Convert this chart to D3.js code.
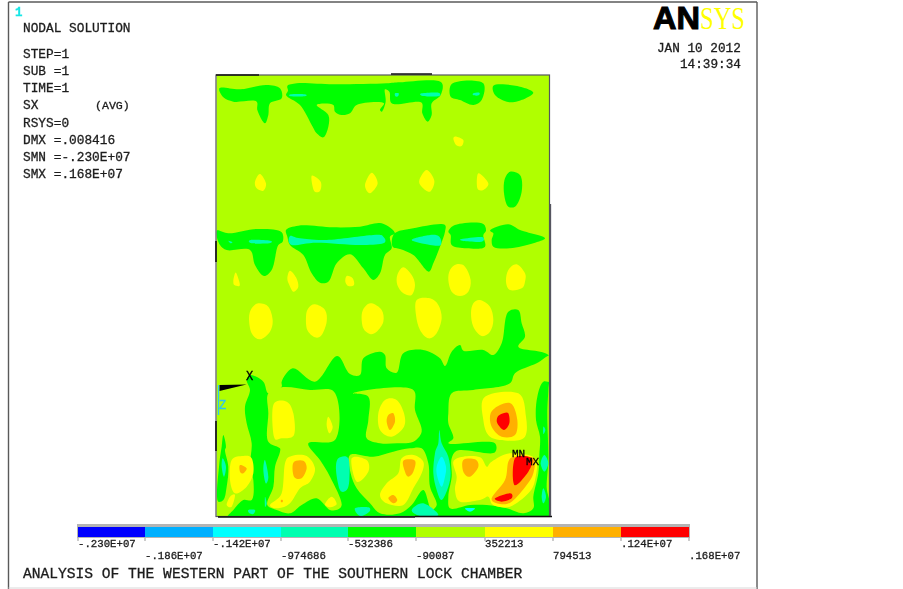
<!DOCTYPE html>
<html>
<head>
<meta charset="utf-8">
<style>
html,body{margin:0;padding:0;background:#fff;overflow:hidden}
text{font-family:"Liberation Mono","DejaVu Sans Mono",monospace;fill:#1c1c1c;white-space:pre}
</style>
<script src="https://cdn.jsdelivr.net/npm/d3@7"></script>
</head>
<body>
<svg id="chart" width="903" height="589"></svg>
<script>
// ---- legend ----
const bandColors = ["#0000ff","#00b0ff","#00ffff","#00ffb0","#00ff00","#b0ff00","#ffff00","#ffb000","#ff0000"];
const tickLabels = ["-.230E+07","-.186E+07","-.142E+07","-974686","-532386","-90087","352213","794513",".124E+07",".168E+07"];
const tickValues = [-2300000,-1860000,-1420000,-974686,-532386,-90087,352213,794513,1240000,1680000];
const infoLines = ["STEP=1","SUB =1","TIME=1","SX","RSYS=0","DMX =.008416","SMN =-.230E+07","SMX =.168E+07"];
const titleText = "ANALYSIS OF THE WESTERN PART OF THE SOUTHERN LOCK CHAMBER";

// ---- contour regions, model coordinates ----
// [band, [x,y,x,y,...]] ; upper model frame
const upperRegions = [
 [4,[58,85,120,88,200,75,240,85,245,115,210,130,205,165,195,190,172,150,170,125,100,125,70,112]],
 [4,[262,78,290,70,400,73,560,70,600,67,725,68,722,105,695,130,695,165,683,185,667,160,665,128,575,130,568,95,555,88,557,125,545,155,540,150,552,130,470,135,450,160,425,165,405,155,400,135,350,135,385,165,385,200,370,232,350,220,338,200,300,135,258,105,264,92]],
 [4,[755,72,850,70,845,120,820,135,780,120,752,110]],
 [4,[880,77,960,80,1000,98,935,127,885,105]],
 [4,[930,335,960,345,965,395,945,440,925,440,912,400,915,355]],
 [4,[50,512,85,520,170,507,245,517,248,545,235,555,215,630,192,648,165,615,150,570,80,570,60,555]],
 [4,[258,510,295,497,400,502,480,500,545,490,585,520,570,530,575,565,555,585,540,640,520,660,490,625,450,583,410,610,385,665,360,668,335,640,310,585,270,555,262,530]],
 [4,[582,522,640,505,735,495,735,515,720,560,700,610,687,635,640,585,600,567,578,560]],
 [4,[745,515,760,497,850,492,858,512,850,525,855,560,800,565,755,555,752,525]],
 [4,[870,512,925,493,960,510,1035,535,1000,550,930,565,880,560,875,540,880,520]],
 [3,[272,103,315,103,315,109,272,109]],
 [3,[585,100,596,100,594,109,586,109]],
 [3,[665,100,715,98,715,109,668,108]],
 [3,[820,100,838,98,836,106,820,106]],
 [3,[270,528,300,535,380,540,520,525,550,530,550,550,480,555,350,548,275,555]],
 [3,[635,540,690,525,718,530,722,555,690,555]],
 [3,[785,537,845,531,845,545,790,543]],
 [3,[152,540,210,542,208,550,155,550]],
 [3,[85,542,97,546,92,550]],
 [6,[770,230,790,240,785,258,768,255,760,235]],
 [6,[180,342,198,370,190,392,170,385,165,365]],
 [6,[335,347,362,365,360,393,342,392]],
 [6,[515,338,533,370,510,400,495,375]],
 [6,[680,330,703,362,690,395,665,380,658,360]],
 [6,[835,340,865,370,850,390,832,385]]
];
// lower model frame
const lowerRegions = [
 // large green network
 [4,[245,305,278,265,345,305,412,228,450,282,480,285,490,235,540,215,555,225,560,265,590,278,610,220,670,210,720,235,735,258,755,215,780,195,790,212,850,210,880,225,905,190,925,95,955,90,965,130,975,170,955,200,1048,228,1045,330,1042,400,1045,540,1040,620,1045,718,80,718,100,690,130,660,155,660,160,600,150,560,155,490,140,430,135,380,150,330,140,300,150,285,190,305,205,340,245,320]],
 [4,[70,465,78,500,75,510,85,560,80,620,70,660,55,665,58,550,65,500]],
 // light islands in the network
 [5,[205,340,245,322,330,330,402,335,405,480,325,490,360,540,390,590,425,675,415,688,390,690,350,655,305,675,270,700,230,690,202,675,220,620,225,560,240,515,240,505,205,485,205,400]],
 [5,[505,350,460,340,640,330,645,390,665,455,640,485,590,490,540,490,500,475,505,420]],
 [5,[450,525,520,530,580,515,630,505,665,505,685,550,690,620,710,675,695,690,670,630,635,675,600,700,540,700,510,670,470,625,452,580]],
 [5,[755,340,820,330,930,310,945,280,1010,250,1056,225,1056,305,1030,305,1012,350,1008,420,1020,470,1018,525,1015,580,1000,650,1000,685,970,700,920,685,860,675,810,675,750,685,745,650,755,590,755,535,770,512,885,517,885,490,745,490,760,475,745,430,745,400]],
 // yellow areas
 [6,[108,-22,118,5,118,18,103,15,100,5,102,-10]],
 [6,[270,-28,288,-8,295,20,280,35,268,15,262,-5]],
 [6,[440,-12,458,-5,462,15,445,18,436,5]],
 [6,[610,-38,635,-15,645,15,635,45,610,40,592,15,592,-15]],
 [6,[770,-47,795,-40,812,0,805,35,780,48,755,35,745,0,750,-30]],
 [6,[950,-47,975,-20,975,5,965,25,930,30,918,5,925,-30]],
 [6,[175,70,205,80,218,120,210,155,180,178,155,160,147,115,155,85]],
 [6,[345,73,375,90,380,125,365,165,345,172,322,150,318,110,325,85]],
 [6,[515,70,545,90,550,125,530,155,510,162,490,145,485,105,495,80]],
 [6,[650,60,690,55,715,75,725,115,710,160,685,175,660,150,648,105]],
 [6,[840,60,870,80,880,120,870,155,845,168,820,140,813,100,820,70]],
 [6,[220,375,260,365,280,400,282,465,245,475,222,470]],
 [6,[385,410,398,440,388,460,380,435]],
 [6,[555,360,590,360,612,400,612,440,575,470,540,450,535,400]],
 [6,[855,350,955,340,978,410,975,470,930,482,870,470,850,420]],
 [6,[95,540,130,528,155,535,160,580,140,620,105,640,90,600]],
 [6,[90,650,105,645,95,680,80,675]],
 [6,[255,550,275,528,320,528,345,565,330,605,300,625,270,670,235,685,210,675,245,640]],
 [6,[395,650,410,672,390,682,375,672]],
 [6,[455,535,500,540,505,575,470,605]],
 [6,[605,535,640,525,670,545,665,580,640,625,610,675,560,670,540,645,560,610,595,580]],
 [6,[760,545,790,530,840,532,860,560,875,545,930,520,1005,535,1005,600,985,640,930,680,880,675,865,650,840,660,780,665,765,630,770,590]],
 // orange areas
 [7,[565,405,580,400,585,425,570,450,560,425]],
 [7,[900,375,935,372,952,420,945,465,905,470,875,440,872,400]],
 [7,[120,555,140,565,130,580,120,575]],
 [7,[280,548,310,542,320,565,305,595,282,590]],
 [7,[243,660,248,660,248,666,243,666]],
 [7,[610,542,645,542,640,575,625,590,615,575]],
 [7,[565,655,580,645,592,660,580,670]],
 [7,[790,540,825,538,835,560,810,590,790,575]],
 [7,[925,545,945,530,1000,535,1000,580,980,615,935,665,900,672,875,655,915,600]],
 // red areas
 [8,[910,400,925,400,928,430,912,450,892,430,893,410]],
 [8,[945,535,995,535,985,575,943,615]],
 [8,[885,655,930,640,935,655,905,665]],
 // green-blue pockets
 [3,[68,535,78,560,72,590,65,560]],
 [3,[195,540,205,590,197,610,190,570]],
 [3,[195,650,200,670,195,680]],
 [3,[145,690,165,690,160,702,148,700]],
 [3,[415,535,445,535,448,600,440,630,420,630,408,570]],
 [3,[465,685,505,682,508,695,480,708]],
 [3,[635,690,670,670,715,705,660,708]],
 [3,[718,450,725,490,745,530,752,580,745,620,725,660,710,630,700,580,705,520,715,490]],
 [2,[725,530,738,560,735,590,725,620,712,590,710,560]],
 [2,[795,685,825,685,810,695]],
 [3,[1033,525,1045,550,1033,575,1022,550]],
 [3,[1030,625,1038,650,1030,670,1025,650]],
 [3,[1030,440,1036,450,1030,462]]
];

// ---- drawing ----
const svg = d3.select("#chart");
const W = 903, H = 589;
const modelX = d3.scaleLinear().domain([0,1080]).range([200,560]);
const upperY = d3.scaleLinear().domain([0,690]).range([60,290]);
const lowerY = d3.scaleLinear().domain([0,690]).range([280,510]);

const defs = svg.append("defs");
defs.append("filter").attr("id","soft").append("feGaussianBlur").attr("stdDeviation",0.4);
defs.append("filter").attr("id","softText").append("feGaussianBlur").attr("stdDeviation",0.3);
const plotL = 216.5, plotR = 550, plotT = 75, plotB = 516.5;
defs.append("clipPath").attr("id","plotClip").append("rect")
  .attr("x",plotL).attr("y",plotT).attr("width",plotR-plotL).attr("height",plotB-plotT);

// page border
const pageLines = [[8.5,2,757,2],[8.5,2,8.5,589],[757,2,757,589]];
svg.append("g").selectAll("line").data(pageLines).join("line")
  .attr("x1",d=>d[0]).attr("y1",d=>d[1]).attr("x2",d=>d[2]).attr("y2",d=>d[3])
  .attr("stroke","#5a5a5a").attr("stroke-width",1.4);
svg.append("line").attr("x1",8.5).attr("x2",757).attr("y1",588).attr("y2",588).attr("stroke","#d8d8d8");

// plot fill
const plot = svg.append("g").attr("clip-path","url(#plotClip)");
const inner = plot.append("g").attr("filter","url(#soft)");
inner.append("rect").attr("x",plotL-2).attr("y",plotT-2).attr("width",plotR-plotL+4).attr("height",plotB-plotT+4)
  .attr("fill",bandColors[5]);
const toPts = f => { const o=[]; for(let i=0;i<f.length;i+=2) o.push([f[i],f[i+1]]); return o; };
function drawRegions(regions, yScale){
  const line = d3.line().x(d=>modelX(d[0])).y(d=>yScale(d[1]));
  const netCurve = d3.curveCatmullRomClosed.alpha(0.5);
  const blobCurve = d3.curveCardinalClosed.tension(0);
  inner.append("g").selectAll("path").data(regions).join("path")
    .attr("d",d=>line.curve(d[0]===4||d[0]===5?netCurve:blobCurve)(toPts(d[1])))
    .attr("fill",d=>bandColors[d[0]]);
}
drawRegions(upperRegions,upperY);
drawRegions(lowerRegions,lowerY);

// plot outline
svg.append("rect").attr("x",216).attr("y",75).attr("width",333.5).attr("height",441.5)
  .attr("fill","none").attr("stroke","#55555f").attr("stroke-width",1.2);
const edgeLines = [[216,75,259,75],[391,74,432,74],[216,241,216,262],[216,421,216,451],[218,517,415,517],[415,516.5,552,516.5]];
svg.append("g").selectAll("line").data(edgeLines).join("line")
  .attr("x1",d=>d[0]).attr("y1",d=>d[1]).attr("x2",d=>d[2]).attr("y2",d=>d[3])
  .attr("stroke","#111").attr("stroke-width",1.6);
svg.append("line").attr("x1",550.5).attr("x2",550.5).attr("y1",204).attr("y2",516).attr("stroke","#55555f").attr("stroke-width",1.3);

// triad
const triadLine = d3.line().x(d=>d[0]).y(d=>d[1]);
svg.append("path").attr("d",triadLine([[219.5,385],[246.5,384.5],[219.5,391]])).attr("fill","#000");
svg.append("line").attr("x1",218.5).attr("x2",218.5).attr("y1",385).attr("y2",415).attr("stroke","#2fc4f0").attr("stroke-width",1.3);

const textLayer = svg.append("g").attr("filter","url(#softText)");
function label(s,x,y,size,opts={}){
  return textLayer.append("text").attr("x",x).attr("y",y).attr("font-size",size)
    .attr("stroke",opts.fill||"#1c1c1c").attr("stroke-width",0.3)
    .attr("font-weight",opts.weight||"normal").style("fill",opts.fill||null).text(s);
}
label("X",246,380,12,{fill:"#000"});
label("Z",219,409,12,{fill:"#2fc4f0"});
label("MN",512,457,11,{fill:"#000"});
label("MX",526,465,11,{fill:"#000"});

// header text
label("1",15,16,12.5,{fill:"#19e6e6",weight:"bold"});
label("NODAL SOLUTION",23,32,12.8);
const infoY = d3.scaleLinear().domain([0,7]).range([58,178]);
infoLines.forEach((s,i)=>label(s,23,infoY(i),12.8));
label("(AVG)",95,infoY(3),11.6);

// logo
const logoAN = svg.append("text").attr("x",653).attr("y",29).attr("textLength",47).attr("lengthAdjust","spacingAndGlyphs")
  .attr("font-weight","bold").attr("font-size",31).attr("stroke","#000").attr("stroke-width",1)
  .style("font-family","'Liberation Sans'").style("fill","#000").text("AN");
const logoSYS = svg.append("text").attr("x",700).attr("y",29).attr("textLength",45).attr("lengthAdjust","spacingAndGlyphs")
  .attr("font-size",31).style("font-family","'Liberation Serif'").style("fill","#ffff00").text("SYS");

label("JAN 10 2012",657,52,12.7);
label("14:39:34",680,68,12.7);

// legend
const legendX = d3.scaleLinear().domain(tickValues).range([78,145,213,281,348,416,485,553,621,689]);
const legend = svg.append("g");
legend.append("rect").attr("x",77).attr("y",524).attr("width",613).attr("height",14).attr("fill","#b4b4b4");
legend.selectAll("rect.band").data(bandColors).join("rect").attr("class","band")
  .attr("x",(d,i)=>legendX(tickValues[i])).attr("y",527)
  .attr("width",(d,i)=>legendX(tickValues[i+1])-legendX(tickValues[i])).attr("height",10)
  .attr("fill",d=>d);
legend.selectAll("line").data(tickValues).join("line")
  .attr("x1",d=>legendX(d)).attr("x2",d=>legendX(d)).attr("y1",538).attr("y2",541)
  .attr("stroke","#999");
tickLabels.forEach((s,i)=>{
  label(s,legendX(tickValues[i]),i%2===0?547:559,10.7);
});
label(titleText,23,578,14.6);
</script>
</body>
</html>
